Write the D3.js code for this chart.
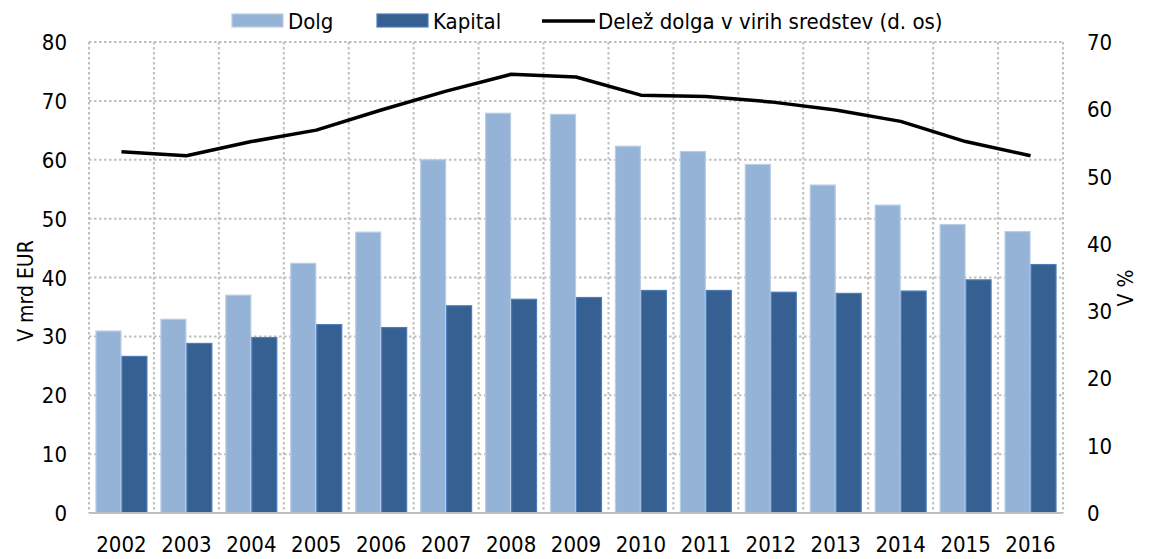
<!DOCTYPE html>
<html>
<head>
<meta charset="utf-8">
<script src="https://cdn.jsdelivr.net/npm/d3@7"></script>
<style>
  body { margin: 0; background: #fff; }
  svg text { font-family: "DejaVu Sans Condensed", "Liberation Sans Narrow", sans-serif; fill: #000; }
</style>
</head>
<body>
<div id="chart"></div>
<script>
// Data
const years = ["2002","2003","2004","2005","2006","2007","2008","2009","2010","2011","2012","2013","2014","2015","2016"];
const dolg = [30.9, 32.9, 37.0, 42.4, 47.7, 60.0, 67.9, 67.7, 62.3, 61.4, 59.2, 55.7, 52.3, 49.0, 47.8];
const kapital = [26.6, 28.8, 29.8, 32.0, 31.5, 35.2, 36.3, 36.6, 37.8, 37.8, 37.5, 37.3, 37.7, 39.6, 42.2];
const delez = [53.7, 53.1, 55.2, 56.9, 59.9, 62.7, 65.2, 64.8, 62.1, 61.9, 61.1, 59.9, 58.2, 55.2, 53.1];
const leftTicks = [0, 10, 20, 30, 40, 50, 60, 70, 80];
const rightTicks = [0, 10, 20, 30, 40, 50, 60, 70];
const seriesNames = ["Dolg", "Kapital"];
const lineName = "Delež dolga v virih sredstev (d. os)";

const width = 1150;
const height = 559;
const plot = { left: 89, right: 1063, top: 42, bottom: 513 };
const colors = { Dolg: "#95b3d7", Kapital: "#376092" };
const borders = { Dolg: "#b9cde5", Kapital: "#4a7ebb" };

const svg = d3.select("#chart").append("svg")
  .attr("width", width)
  .attr("height", height);

// Scales
const x0 = d3.scaleBand().domain(years).range([plot.left, plot.right]);
const x1 = d3.scaleBand().domain(seriesNames)
  .range([x0.bandwidth() * 0.1, x0.bandwidth() * 0.9]);
const yL = d3.scaleLinear().domain([0, 80]).range([plot.bottom, plot.top]);
const yR = d3.scaleLinear().domain([0, 70]).range([plot.bottom, plot.top]);

// Grid (dotted)
const grid = svg.append("g")
  .attr("stroke", "#bfbfbf")
  .attr("stroke-width", 2)
  .attr("stroke-dasharray", "2.5,2.5");

grid.selectAll("line.h")
  .data(leftTicks.filter(d => d > 0))
  .join("line")
  .attr("x1", plot.left).attr("x2", plot.right)
  .attr("y1", d => yL(d)).attr("y2", d => yL(d));

grid.selectAll("line.v")
  .data(years.concat(["end"]))
  .join("line")
  .attr("x1", (d, i) => plot.left + i * x0.bandwidth())
  .attr("x2", (d, i) => plot.left + i * x0.bandwidth())
  .attr("y1", plot.top).attr("y2", plot.bottom);

// Bars
const rows = years.map((y, i) => ({ year: y, Dolg: dolg[i], Kapital: kapital[i] }));

svg.append("g")
  .selectAll("g")
  .data(rows)
  .join("g")
  .attr("transform", d => `translate(${x0(d.year)},0)`)
  .selectAll("rect")
  .data(d => seriesNames.map(k => ({ key: k, value: d[k] })))
  .join("rect")
  .attr("x", d => x1(d.key) + 0.5)
  .attr("width", x1.bandwidth() - 1)
  .attr("y", d => yL(d.value))
  .attr("height", d => yL(0) - yL(d.value))
  .attr("fill", d => colors[d.key])
  .attr("stroke", d => borders[d.key])
  .attr("stroke-width", 1.2);

// Bottom axis line
svg.append("line")
  .attr("x1", plot.left).attr("x2", plot.right)
  .attr("y1", plot.bottom).attr("y2", plot.bottom)
  .attr("stroke", "#bfbfbf").attr("stroke-width", 2);

// Line on right axis
const line = d3.line()
  .x((d, i) => x0(years[i]) + x0.bandwidth() / 2)
  .y(d => yR(d));

svg.append("path")
  .datum(delez)
  .attr("d", line)
  .attr("fill", "none")
  .attr("stroke", "#000")
  .attr("stroke-width", 3.5)
  .attr("stroke-linejoin", "round");

// Axes labels
const fs = 22;
svg.append("g").selectAll("text")
  .data(leftTicks)
  .join("text")
  .attr("x", 67)
  .attr("y", d => yL(d) + 8)
  .attr("text-anchor", "end")
  .attr("font-size", fs)
  .text(d => d);

svg.append("g").selectAll("text")
  .data(rightTicks)
  .join("text")
  .attr("x", 1087)
  .attr("y", d => yR(d) + 8)
  .attr("text-anchor", "start")
  .attr("font-size", fs)
  .text(d => d);

svg.append("g").selectAll("text")
  .data(years)
  .join("text")
  .attr("x", d => x0(d) + x0.bandwidth() / 2)
  .attr("y", 552)
  .attr("text-anchor", "middle")
  .attr("font-size", fs)
  .text(d => d);

svg.append("text")
  .attr("transform", "translate(33,291) rotate(-90)")
  .attr("text-anchor", "middle")
  .attr("font-size", 21)
  .text("V mrd EUR");

svg.append("text")
  .attr("transform", "translate(1133,288) rotate(-90)")
  .attr("text-anchor", "middle")
  .attr("font-size", 21)
  .text("V %");

// Legend
const legend = svg.append("g");
const legendItems = [
  { name: "Dolg", x: 232, type: "rect" },
  { name: "Kapital", x: 377, type: "rect" },
  { name: lineName, x: 542, type: "line" }
];
legendItems.forEach(it => {
  if (it.type === "rect") {
    legend.append("rect")
      .attr("x", it.x).attr("y", 14)
      .attr("width", 51).attr("height", 13)
      .attr("fill", colors[it.name])
      .attr("stroke", borders[it.name]).attr("stroke-width", 1.2);
  } else {
    legend.append("line")
      .attr("x1", it.x).attr("x2", it.x + 53)
      .attr("y1", 21).attr("y2", 21)
      .attr("stroke", "#000").attr("stroke-width", 3.5);
  }
  legend.append("text")
    .attr("x", it.x + 56)
    .attr("y", 29)
    .attr("font-size", fs)
    .text(it.name);
});
</script>
</body>
</html>
